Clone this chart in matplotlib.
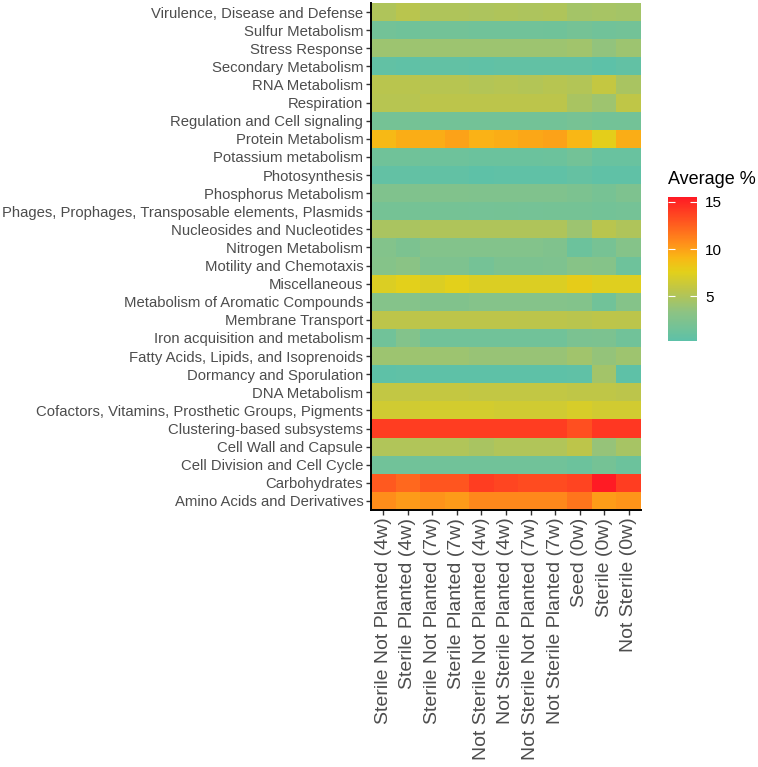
import numpy as np
import matplotlib
matplotlib.use("Agg")
import matplotlib.pyplot as plt
from matplotlib.colors import LinearSegmentedColormap, Normalize

plt.rcParams['font.family'] = ['Liberation Sans', 'DejaVu Sans']

samples = ["Sterile Not Planted (4w)", "Sterile Planted (4w)", "Sterile Not Planted (7w)",
           "Sterile Planted (7w)", "Not Sterile Not Planted (4w)", "Not Sterile Planted (4w)",
           "Not Sterile Not Planted (7w)", "Not Sterile Planted (7w)", "Seed (0w)",
           "Sterile (0w)", "Not Sterile (0w)"]

# rows listed top to bottom as displayed
subsystems = ["Virulence, Disease and Defense", "Sulfur Metabolism", "Stress Response",
              "Secondary Metabolism", "RNA Metabolism", "Respiration",
              "Regulation and Cell signaling", "Protein Metabolism", "Potassium metabolism",
              "Photosynthesis", "Phosphorus Metabolism",
              "Phages, Prophages, Transposable elements, Plasmids",
              "Nucleosides and Nucleotides", "Nitrogen Metabolism", "Motility and Chemotaxis",
              "Miscellaneous", "Metabolism of Aromatic Compounds", "Membrane Transport",
              "Iron acquisition and metabolism", "Fatty Acids, Lipids, and Isoprenoids",
              "Dormancy and Sporulation", "DNA Metabolism",
              "Cofactors, Vitamins, Prosthetic Groups, Pigments", "Clustering-based subsystems",
              "Cell Wall and Capsule", "Cell Division and Cell Cycle", "Carbohydrates",
              "Amino Acids and Derivatives"]

virulence   = [5.0, 5.5, 5.0, 5.0, 4.9, 5.0, 4.9, 5.0, 4.5, 4.6, 4.5]
sulfur      = [1.7, 1.5, 1.7, 1.7, 1.6, 1.6, 1.6, 1.5, 1.9, 1.6, 1.7]
stress      = [4.1, 4.1, 4.1, 4.1, 4.1, 4.1, 4.1, 4.1, 4.3, 3.6, 4.1]
secondary   = [0.6, 0.5, 0.6, 0.6, 0.5, 0.6, 0.6, 0.6, 0.6, 0.3, 0.6]
rna         = [5.5, 5.5, 5.4, 5.4, 5.2, 5.3, 5.2, 5.4, 5.2, 6.0, 4.7]
respiration = [5.4, 5.4, 5.6, 5.6, 5.6, 5.6, 5.6, 5.6, 4.7, 4.2, 5.8]
regulation  = [1.9, 1.9, 1.7, 1.7, 1.7, 1.7, 1.7, 1.7, 2.0, 1.7, 1.7]
protein     = [9.0, 9.5, 9.5, 9.9, 9.3, 9.5, 9.7, 9.9, 9.1, 7.7, 9.5]
potassium   = [1.5, 1.5, 1.4, 1.4, 1.2, 1.2, 1.2, 1.3, 1.7, 1.1, 1.1]
photosynth  = [0.7, 0.7, 0.6, 0.6, 0.4, 0.5, 0.5, 0.5, 0.8, 0.5, 0.5]
phosphorus  = [2.5, 2.5, 2.6, 2.6, 2.5, 2.5, 2.5, 2.5, 2.3, 2.0, 2.4]
phages      = [1.9, 1.9, 1.9, 1.9, 1.8, 1.9, 1.8, 1.9, 1.9, 1.7, 1.8]
nucleosides = [4.8, 4.8, 5.0, 5.0, 5.0, 5.0, 5.0, 5.0, 4.1, 5.5, 5.0]
nitrogen    = [2.7, 2.3, 2.7, 2.7, 2.7, 2.7, 2.7, 2.5, 1.3, 2.0, 2.9]
motility    = [2.9, 3.2, 2.4, 2.4, 1.8, 2.3, 2.3, 2.4, 3.0, 2.9, 1.4]
misc        = [7.2, 7.6, 7.2, 7.6, 7.2, 7.2, 7.2, 7.2, 7.8, 7.4, 7.4]
aromatic    = [2.8, 2.8, 2.6, 2.6, 2.8, 2.8, 2.8, 2.8, 2.7, 1.6, 2.9]
membrane    = [5.7, 5.7, 5.7, 5.7, 5.7, 5.7, 5.6, 5.6, 5.5, 5.7, 5.6]
iron        = [1.6, 2.7, 1.6, 1.6, 1.6, 1.6, 1.6, 1.6, 2.2, 2.3, 1.6]
fatty       = [4.1, 4.1, 4.1, 4.1, 3.9, 3.9, 3.9, 3.9, 4.3, 3.7, 4.2]
dormancy    = [0.4, 0.5, 0.4, 0.4, 0.4, 0.4, 0.4, 0.4, 0.5, 4.4, 0.4]
dna         = [5.9, 5.9, 6.0, 6.0, 5.9, 5.9, 5.9, 5.9, 5.8, 5.8, 5.6]
cofactors   = [6.6, 6.6, 6.8, 6.8, 6.8, 6.6, 6.6, 6.6, 7.0, 6.7, 6.7]
clustering  = [14.0, 14.0, 14.0, 14.0, 14.0, 14.0, 14.0, 14.0, 13.2, 14.2, 14.2]
cellwall    = [5.1, 5.1, 5.1, 5.1, 4.7, 5.1, 5.1, 5.1, 5.7, 3.8, 4.6]
celldiv     = [1.6, 1.6, 1.6, 1.6, 1.6, 1.6, 1.6, 1.6, 1.3, 1.9, 1.3]
carbs       = [12.8, 12.2, 13.0, 13.0, 14.0, 13.6, 13.4, 13.4, 13.7, 15.4, 14.0]
aminoacids  = [10.7, 10.2, 10.5, 10.2, 10.9, 10.9, 10.9, 10.9, 11.7, 10.1, 10.4]

values = np.array([virulence, sulfur, stress, secondary, rna, respiration, regulation,
                   protein, potassium, photosynth, phosphorus, phages, nucleosides,
                   nitrogen, motility, misc, aromatic, membrane, iron, fatty, dormancy,
                   dna, cofactors, clustering, cellwall, celldiv, carbs, aminoacids])

cmap = LinearSegmentedColormap.from_list("avg", [
    (0.00, "#5DC1A8"),
    (0.20, "#8DC383"),
    (0.35, "#BCC54B"),
    (0.48, "#E3D01A"),
    (0.58, "#F9B715"),
    (0.68, "#FF8F1A"),
    (0.82, "#FF5A1F"),
    (1.00, "#FF1A24"),
])
norm = Normalize(vmin=0.3, vmax=15.5)

fig = plt.figure(figsize=(7.58, 7.67), dpi=100)
ax = fig.add_axes([371/758, 1-510/767, 270/758, 507/767])

nr, nc = values.shape
ax.pcolormesh(np.arange(nc+1)-0.5, np.arange(nr+1)-0.5, values, cmap=cmap, norm=norm,
              shading='flat', edgecolors='none', rasterized=True)
ax.set_xlim(-0.5, nc-0.5)
ax.set_ylim(nr-0.5, -0.5)

ax.set_xticks(np.arange(nc))
ax.set_xticklabels(samples, rotation=90, fontsize=14, color='#4D4D4D')
ax.set_yticks(np.arange(nr))
ax.set_yticklabels(subsystems, fontsize=10.7, color='#4D4D4D')
ax.tick_params(axis='both', length=3.5, width=1.0, color='#333333', pad=2)

for s in ['top', 'right']:
    ax.spines[s].set_visible(False)
for s in ['left', 'bottom']:
    ax.spines[s].set_linewidth(1.4)
    ax.spines[s].set_color('black')

# colorbar
cax = fig.add_axes([668/758, 1-341/767, 29/758, 144/767])
sm = matplotlib.cm.ScalarMappable(norm=norm, cmap=cmap)
cb = fig.colorbar(sm, cax=cax, ticks=[5, 10, 15])
cb.outline.set_visible(False)
cax.tick_params(axis='y', which='both', direction='in', length=5, width=0.8,
                color='white', left=True, right=True, labelsize=11, labelcolor='black', pad=6)
cb.ax.set_yticklabels(["5", "10", "15"])
fig.text(668/758, 1-180/767, "Average %", fontsize=13, ha='left', va='center', color='black')

fig.savefig("out.png", dpi=100)
